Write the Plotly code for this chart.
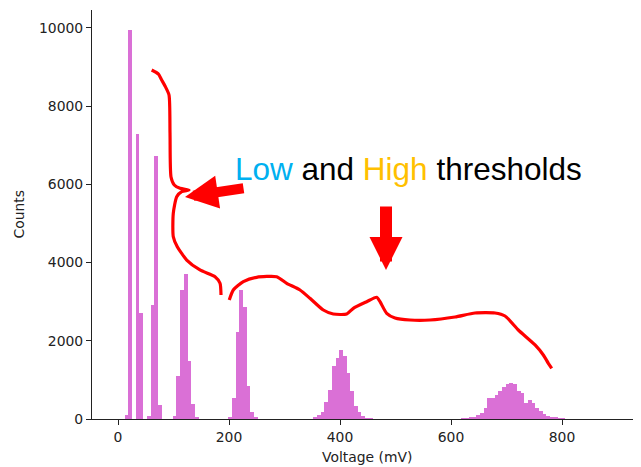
import plotly.graph_objects as go

# ---------------- data ----------------
bin_width_mv = 6.667
# each cluster: left edge (mV) of its first bin, then counts per bin
cluster1_start_mv = 11.93
cluster1_counts = [100, 9960, 0, 7300, 2720, 0, 80, 2920, 6730, 360]
cluster2_start_mv = 98.6
cluster2_counts = [80, 1100, 3290, 3720, 1480, 375, 50]
cluster3_start_mv = 198.6
cluster3_counts = [60, 545, 2230, 3300, 2870, 850, 170, 30]
cluster4_start_mv = 351.95
cluster4_counts = [30, 100, 190, 425, 740, 1355, 1550, 1765, 1620, 1170, 715, 330, 190, 75, 25, 15]
cluster5_start_mv = 618.6
cluster5_counts = [10, 20, 40, 60, 95, 160, 290, 530, 530, 615, 725, 830, 885, 910, 905,
                   725, 675, 400, 485, 400, 290, 205, 120, 75, 50, 35, 25, 15]

# hand-drawn threshold curve (voltage mV, counts)
low_curve_mv = [60.7, 72.6, 78.7, 84.7, 91.9, 93.7, 95.5, 101.4, 111.7, 127.9, 114.8, 105.8,
                99.6, 99.6, 106.8, 123.8, 147.7, 174.8, 183.8, 185.6]
low_curve_counts = [8926, 8824, 8670, 8517, 8286, 7315, 6189, 5985, 5900, 5857, 5813, 5685,
                    5261, 4662, 4407, 4066, 3811, 3639, 3471, 3171]
high_curve_mv = [200.5, 207.7, 225.8, 249.9, 285.9, 304, 327.9, 345.9, 369.9, 387.9, 412.1,
                 424, 448.1, 466.1, 472.1, 484.1, 499.1, 526.1, 562.2, 607.2, 643.2, 679.3,
                 697.3, 721.3, 751.4, 766.3, 775.3, 781.4]
high_curve_counts = [3043, 3299, 3512, 3624, 3639, 3471, 3299, 3087, 2788, 2685, 2685, 2831,
                     3000, 3113, 3000, 2703, 2583, 2532, 2532, 2609, 2711, 2711, 2634, 2276,
                     1893, 1637, 1425, 1297]

x_ticks = [0, 200, 400, 600, 800]
y_ticks = [0, 2000, 4000, 6000, 8000, 10000]

# ---------------- build ----------------
clusters = [(cluster1_start_mv, cluster1_counts), (cluster2_start_mv, cluster2_counts),
            (cluster3_start_mv, cluster3_counts), (cluster4_start_mv, cluster4_counts),
            (cluster5_start_mv, cluster5_counts)]
centers, counts = [], []
for start, cs in clusters:
    for i, c in enumerate(cs):
        centers.append(start + (i + 0.5) * bin_width_mv)
        counts.append(c)

fig = go.Figure()
fig.add_trace(go.Bar(x=centers, y=counts, width=bin_width_mv,
                     marker=dict(color="orchid", line=dict(width=0)),
                     showlegend=False, hoverinfo="skip"))
for xs, ys in [(low_curve_mv, low_curve_counts), (high_curve_mv, high_curve_counts)]:
    fig.add_trace(go.Scatter(x=xs, y=ys, mode="lines",
                             line=dict(color="red", width=3.2, shape="spline", smoothing=0.6),
                             showlegend=False, hoverinfo="skip"))

axis_font = dict(family="DejaVu Sans", size=13.9, color="#222222")
OFF = 8  # page body margin
W, H = 641 - OFF, 467 - OFF
L, T, B = 92 - OFF, 10 - OFF, 419 - OFF
plot_h = B - T
fig.update_layout(
    width=W, height=H,
    margin=dict(l=L, r=0, t=T, b=H - B),
    paper_bgcolor="white", plot_bgcolor="white",
    bargap=0,
    font=axis_font,
    xaxis=dict(range=[-46.85, 942.3], tickvals=x_ticks, ticks="outside", ticklen=5,
               tickwidth=1, tickcolor="#222222", showline=True, linecolor="#222222",
               linewidth=1.1, showgrid=False, zeroline=False, tickfont=axis_font),
    yaxis=dict(range=[0, 10460], tickvals=y_ticks, tickformat="d", ticks="outside",
               ticklen=5, tickwidth=1, tickcolor="#222222", showline=True,
               linecolor="#222222", linewidth=1.1, showgrid=False, zeroline=False,
               tickfont=axis_font),
)

def px(xp):  # page x -> paper
    return (xp - OFF - L) / (W - L)

def py(yp):  # page y -> paper
    return (B - (yp - OFF)) / plot_h

annotations = [
    dict(text="Counts", xref="paper", yref="paper", x=0, y=0.5, xshift=18 - 92,
         textangle=-90, showarrow=False, font=axis_font, xanchor="center", yanchor="middle"),
    dict(text="Voltage (mV)", xref="paper", yref="paper", x=0.5, y=0, yshift=-(457 - 419),
         showarrow=False, font=axis_font, xanchor="center", yanchor="middle"),
    dict(text="<span style='color:#00B0F0'>Low</span> and "
              "<span style='color:#FFC000'>High</span> thresholds",
         xref="paper", yref="paper", x=px(233), y=py(169), xanchor="left", yanchor="middle",
         showarrow=False, font=dict(family="Liberation Sans", size=31.5, color="black")),
    # left arrow
    dict(text="", xref="paper", yref="paper", x=px(185), y=py(197), ax=60, ay=-9,
         showarrow=True, arrowhead=2, arrowsize=0.66, arrowwidth=10, arrowcolor="red",
         standoff=0),
    # down arrow
    dict(text="", xref="paper", yref="paper", x=px(386), y=py(270), ax=0, ay=-65,
         showarrow=True, arrowhead=2, arrowsize=0.55, arrowwidth=12, arrowcolor="red",
         standoff=0),
]
fig.update_layout(annotations=annotations)

fig.write_html("out.html")
